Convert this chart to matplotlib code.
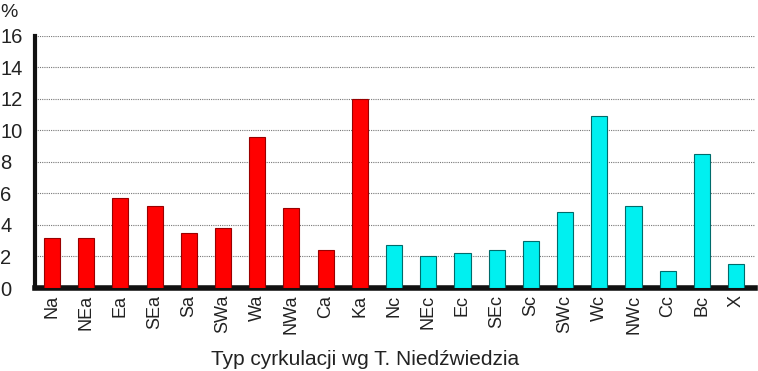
import numpy as np
import matplotlib.pyplot as plt

plt.rcParams['font.family'] = ['Liberation Sans', 'DejaVu Sans']

types_a = ['Na', 'NEa', 'Ea', 'SEa', 'Sa', 'SWa', 'Wa', 'NWa', 'Ca', 'Ka']
values_a = [3.2, 3.2, 5.7, 5.2, 3.5, 3.8, 9.6, 5.1, 2.4, 12.0]
types_c = ['Nc', 'NEc', 'Ec', 'SEc', 'Sc', 'SWc', 'Wc', 'NWc', 'Cc', 'Bc', 'X']
values_c = [2.7, 2.0, 2.2, 2.4, 3.0, 4.8, 10.9, 5.2, 1.1, 8.5, 1.5]
yticks = [0, 2, 4, 6, 8, 10, 12, 14, 16]

fig = plt.figure(figsize=(7.58, 3.71), dpi=100)
ax = fig.add_axes([0.046, 0.2237, 0.95, 0.68])

xa = np.arange(len(types_a))
xc = np.arange(len(types_a), len(types_a) + len(types_c))
ax.bar(xa, values_a, width=0.47, color='#ff0000', edgecolor='#990000', linewidth=0.8, zorder=3)
ax.bar(xc, values_c, width=0.47, color='#00f0f0', edgecolor='#006b6b', linewidth=0.8, zorder=3)

ax.set_xlim(-0.5, len(types_a) + len(types_c) - 0.45)
ax.set_ylim(0, 16)
ax.set_yticks(yticks)
ax.set_xticks(np.concatenate([xa, xc]))
ax.set_xticklabels(types_a + types_c, rotation=90, fontsize=13)
ax.tick_params(axis='both', length=0, colors='#222222')
ax.tick_params(axis='y', labelsize=14.5, pad=25)
# left-aligned y labels starting at the figure edge
for lbl in ax.get_yticklabels():
    lbl.set_horizontalalignment('left')
ax.tick_params(axis='x', pad=5)

ax.yaxis.grid(True, linestyle=(0, (1, 1)), color='#777777', linewidth=0.8, zorder=0)
ax.spines['top'].set_visible(False)
ax.spines['right'].set_visible(False)
ax.spines['left'].set_linewidth(3)
ax.spines['bottom'].set_linewidth(4)
ax.spines['left'].set_color('#111111')
ax.spines['bottom'].set_color('#111111')

ax.set_xlabel('Typ cyrkulacji wg T. Niedźwiedzia', fontsize=15, color='#222222')
ax.xaxis.set_label_coords(0.458, -0.245)
ax.xaxis.label.set_va('top')
fig.text(0.0, 0.99, '%', fontsize=14, va='top', ha='left', color='#222222')

fig.savefig('out.png', dpi=100)
